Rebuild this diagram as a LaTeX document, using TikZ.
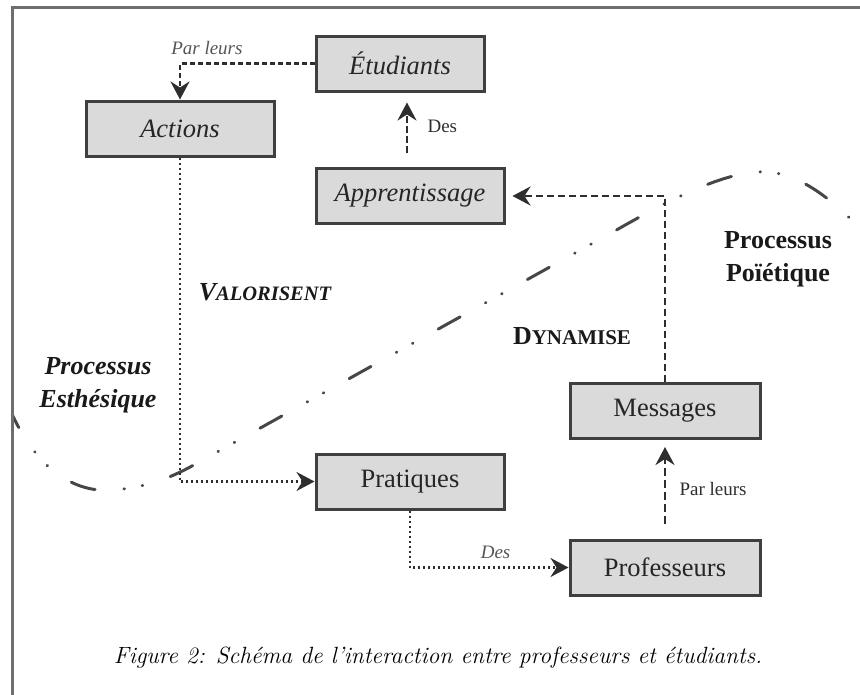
\documentclass[tikz,border=0pt]{standalone}
\usepackage{fontspec}
\newfontfamily\timesfont{Liberation Serif}
\usepackage{tikz}
\usetikzlibrary{arrows.meta}
\usepackage{xcolor}
\definecolor{boxfill}{HTML}{DADADA}
\definecolor{boxline}{HTML}{3F3F3F}
\definecolor{linkcol}{HTML}{2E2E2E}
\definecolor{wavecol}{HTML}{474747}
\definecolor{framecol}{HTML}{6E6E6E}
\definecolor{labelcol}{HTML}{555555}

\begin{document}
\begin{tikzpicture}[x=1pt,y=-1pt,>={Stealth[length=18pt,width=19pt,inset=6pt]}]
    \tikzstyle{box}=[rectangle,draw=boxline,fill=boxfill,line width=3pt,minimum width=188pt,minimum height=55pt,inner sep=0pt,text=black!85,font=\timesfont\fontsize{26.5}{30}\selectfont]
    \tikzstyle{link}=[linkcol,line width=2.4pt]
    \tikzstyle{small}=[font=\timesfont\fontsize{19}{22}\selectfont,text=labelcol]
    \tikzstyle{big}=[align=center,text=black!90,font=\timesfont\bfseries\fontsize{26}{33}\selectfont]
    \useasboundingbox (0,0) rectangle (860,694);
    \draw[framecol,line width=3pt] (12.5,700) -- (12.5,7.5) -- (870,7.5);
    \begin{scope}
      \clip (14,9) rectangle (860,694);
      \draw[wavecol,line width=3pt,line cap=round,dash pattern=on 25pt off 29pt on 0.5pt off 18pt on 0.5pt off 29pt]
        (8,405) .. controls (35,470) and (75,493) .. (112,490)
        .. controls (145,488) and (170,478) .. (192,466) -- (620,228)
        .. controls (690,188) and (735,170) .. (768,172)
        .. controls (805,175) and (840,205) .. (880,250);
    \end{scope}
    \node[box,minimum width=168pt](etud) at (400,63.5){\itshape Étudiants};
    \node[box](act) at (180,128.5){\itshape Actions};
    \node[box](appr) at (410,196){\itshape Apprentissage};
    \node[box](prat) at (410,481.5){Pratiques};
    \node[box,minimum width=190pt](msg) at (665,411){Messages};
    \node[box,minimum width=190pt](prof) at (665,567.5){Professeurs};
    \draw[link,->,dash pattern=on 5pt off 3pt] (etud.west) -| (act.north)
      node[small,pos=0.4,above=4pt]{\itshape Par leurs};
    \draw[link,->,dash pattern=on 7pt off 3pt,shorten <=14pt,shorten >=10pt]
      ([xshift=-3pt]appr.north) -- ([xshift=-3pt]appr.north |- etud.south)
      node[small,pos=0.55,right=16pt,text=linkcol]{Des};
    \draw[link,->,dash pattern=on 2pt off 3pt] (act.south) |- (prat.west);
    \draw[link,->,dash pattern=on 2pt off 3pt] (prat.south) |- (prof.west)
      node[small,pos=0.77,above=4pt]{\itshape Des};
    \draw[link,->,dash pattern=on 8pt off 4pt,shorten <=15pt,shorten >=7pt] (prof.north) -- (msg.south)
      node[small,midway,right=10pt,text=linkcol]{Par leurs};
    \draw[link,->,dash pattern=on 7pt off 4pt,shorten >=7pt] (msg.north) |- (appr.east);
    \node[big](valor) at (265,292){\itshape V\fontsize{20.5}{24}\selectfont ALORISENT};
    \node[big](dyna) at (572,336){D\fontsize{21}{24}\selectfont YNAMISE};
    \node[big](esth) at (98,385.5){\itshape Processus\\\itshape Esthésique};
    \node[big](poie) at (778,259.5){Processus\\Poïétique};
    \node[anchor=base,font=\itshape\fontsize{23.5}{28}\selectfont](caption) at (438,663){Figure 2: Schéma de l’interaction entre professeurs et étudiants.};
\end{tikzpicture}
\end{document}
